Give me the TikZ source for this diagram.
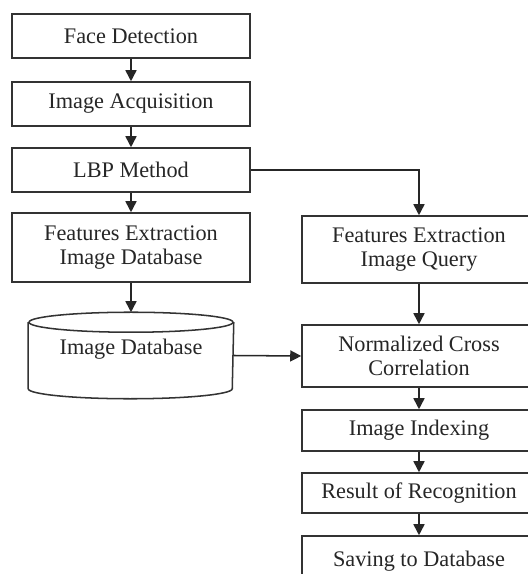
\documentclass[tikz,border=0pt]{standalone}
\usepackage{fontspec}
\setmainfont{Liberation Serif}
\usetikzlibrary{calc,arrows.meta}
\tikzset{
  box/.style={draw=black!80,line width=1.3pt,fill=white,minimum width=7.14cm,align=center,
    font=\fontsize{19}{20.5}\selectfont,text=black!85},
  rbox/.style={box,minimum width=7.02cm},
  flow/.style={draw=black!85,line width=1.3pt,-{Triangle[length=0.33cm,width=0.33cm]}}
}
\begin{document}
\begin{tikzpicture}[x=0.03cm,y=0.03cm]
                      \clip (0,0) rectangle (528,574);
                      \node[box,minimum height=1.32cm](face)at(131,538){Face Detection};
                      \node[box,minimum height=1.32cm](acq)at(131,470){Image Acquisition};
                      \node[box,minimum height=1.32cm](lbp)at(131,404){LBP Method};
                      \node[box,minimum height=2.07cm](fedb)at(131,326.5){Features Extraction\\Image Database};
                      \node[box,draw=none,fill=none,minimum width=6.12cm,minimum height=2.55cm,text depth=0.5cm](db)at(131,218.5){Image Database};
                      \draw[black!80,line width=1.3pt] ($(db.north west)+(0,-10)$) -- ($(db.south west)+(0,10)$)
                            arc[start angle=180,end angle=360,x radius=3.06cm,y radius=0.3cm]
                            -- ($(db.north east)+(0,-10)$);
                      \draw[black!80,line width=1.3pt] ($(db.north)+(0,-10)$) ellipse[x radius=3.06cm,y radius=0.3cm];
                      \node[rbox,minimum height=2.01cm](feq)at(419,324.5){Features Extraction\\Image Query};
                      \node[rbox,minimum height=1.86cm](ncc)at(419,218){Normalized Cross\\Correlation};
                      \node[rbox,minimum height=1.23cm](idx)at(419,143.5){Image Indexing};
                      \node[rbox,minimum height=1.2cm](res)at(419,81){Result of Recognition};
                      \node[rbox,minimum height=1.5cm](save)at(419,13){Saving to Database};
                      \draw[flow] (face)--(acq);
                      \draw[flow] (acq)--(lbp);
                      \draw[flow] (lbp)--(fedb);
                      \draw[flow] (fedb)--(db.north);
                      \draw[flow] (lbp.east) -| (feq.north);
                      \draw[flow] (feq)--(ncc);
                      \draw[flow] (db.east)--(ncc.west);
                      \draw[flow] (ncc)--(idx);
                      \draw[flow] (idx)--(res);
                      \draw[flow] (res)--(save);
                  \end{tikzpicture}
\end{document}
